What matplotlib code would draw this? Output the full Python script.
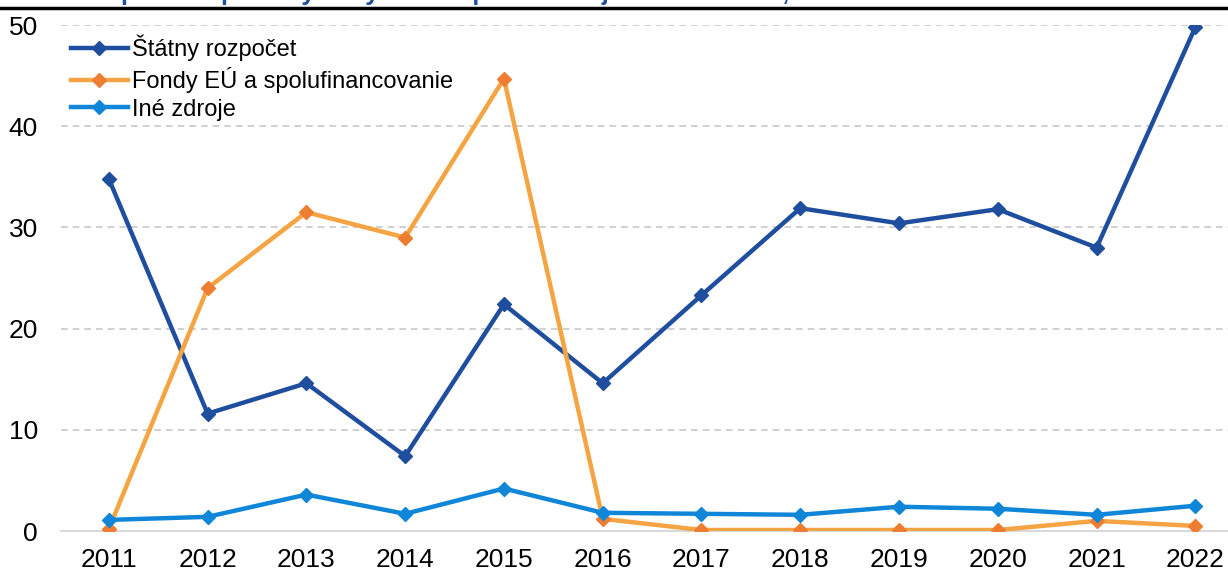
import matplotlib.pyplot as plt
from matplotlib.lines import Line2D
from matplotlib import font_manager

# fonty
names = {f.name for f in font_manager.fontManager.ttflist}
font = 'Liberation Sans Narrow' if 'Liberation Sans Narrow' in names else 'Liberation Sans'
plt.rcParams['font.family'] = [font, 'DejaVu Sans']

# Dáta
roky = ['2011', '2012', '2013', '2014', '2015', '2016', '2017', '2018', '2019', '2020', '2021', '2022']
statny = [34.8, 11.6, 14.6, 7.4, 22.4, 14.6, 23.3, 31.9, 30.4, 31.8, 28.0, 49.8]
fondy_eu = [0.2, 24.0, 31.5, 29.0, 44.7, 1.2, 0.1, 0.1, 0.1, 0.1, 1.0, 0.5]
ine = [1.1, 1.4, 3.6, 1.7, 4.2, 1.8, 1.7, 1.6, 2.4, 2.2, 1.6, 2.5]
nazvy = ['Štátny rozpočet', 'Fondy EÚ a spolufinancovanie', 'Iné zdroje']
titulok = 'Graf 2 Čerpanie kapitálových výdavkov podľa zdroja financovania, v mil. eur'

fig = plt.figure(figsize=(12.28, 5.75), dpi=100)
ax = fig.add_axes([0.05, 0.0765, 0.95, 0.88])

x = list(range(len(roky)))
ax.plot(x, statny, color='#1f4e9e', lw=3.2, marker='D', ms=7.5, mfc='#1f4e9e', mec='#1f4e9e',
        label=nazvy[0], zorder=3)
ax.plot(x, fondy_eu, color='#f4a442', lw=3.2, marker='D', ms=7.5, mfc='#ed7d31', mec='#ed7d31',
        label=nazvy[1], zorder=3)
ax.plot(x, ine, color='#0f86d8', lw=3.2, marker='D', ms=7.5, mfc='#0f86d8', mec='#0f86d8',
        label=nazvy[2], zorder=4)

ax.set_xlim(-0.48, 11.33)
ax.set_ylim(0, 50)
ax.set_xticks(x)
ax.set_xticklabels(roky)
ax.set_yticks([0, 10, 20, 30, 40, 50])
ax.tick_params(length=0, labelsize=19, pad=12)
ax.tick_params(axis='y', pad=17)
for s in ['top', 'right', 'left']:
    ax.spines[s].set_visible(False)
ax.spines['bottom'].set_color('#d9d9d9')
ax.spines['bottom'].set_linewidth(1.5)
ax.yaxis.grid(True, color='#c8c8c8', ls=(0, (4, 3)), lw=1.2)
ax.set_axisbelow(True)

ax.legend(loc='upper left', bbox_to_anchor=(0.0, 1.0), frameon=False, fontsize=17,
          handlelength=2.4, handletextpad=0.2, labelspacing=0.25, borderaxespad=0.0,
          borderpad=0.4)

# orezaný titulok a čiara
fig.text(0.0, 1 - 5 / 575, titulok, color='#1f4e9e', fontsize=18, fontweight='bold', va='bottom', ha='left')
fig.add_artist(Line2D([0, 1], [1 - 8 / 575, 1 - 8 / 575], color='black', lw=2.5, transform=fig.transFigure))

fig.savefig('out.png', dpi=100)
